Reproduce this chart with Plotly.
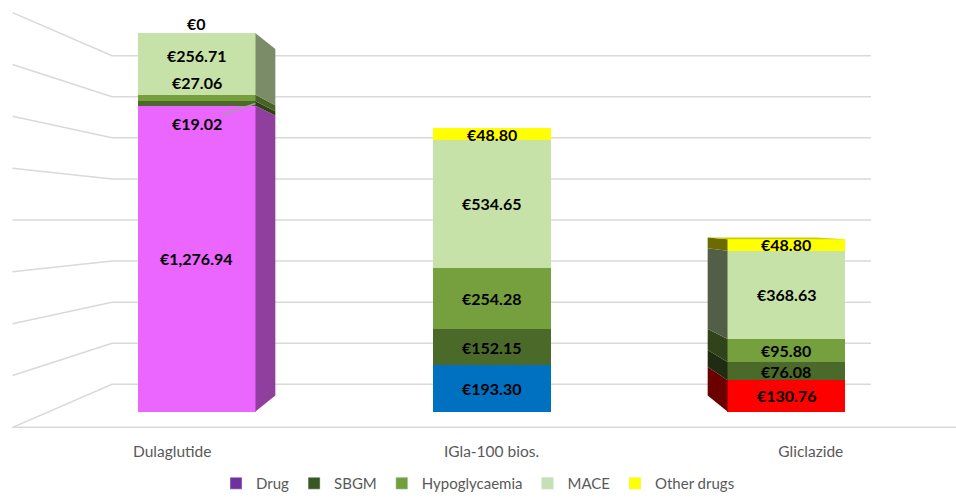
import numpy as np
import plotly.graph_objects as go

# ---------------- data ----------------
categories = ["Dulaglutide", "IGla-100 bios.", "Gliclazide"]
series_names = ["Drug", "SBGM", "Hypoglycaemia", "MACE", "Other drugs"]
drug = [1276.94, 193.30, 130.76]
sbgm = [19.02, 152.15, 76.08]
hypoglycaemia = [27.06, 254.28, 95.80]
mace = [256.71, 534.65, 368.63]
other_drugs = [0.0, 48.80, 48.80]
grid_values = [0, 200, 400, 600, 800, 1000, 1200, 1400, 1600]

series_values = [drug, sbgm, hypoglycaemia, mace, other_drugs]

# ---------------- styles ----------------
bar_colors = {
    "Drug": ["#EB66FF", "#0070C0", "#FF0000"],
    "SBGM": ["#4B6A2A"] * 3,
    "Hypoglycaemia": ["#76A03E"] * 3,
    "MACE": ["#C7E2A8"] * 3,
    "Other drugs": ["#FFFF00"] * 3,
}
legend_colors = {
    "Drug": "#7030A0",
    "SBGM": "#385723",
    "Hypoglycaemia": "#6FA03C",
    "MACE": "#C5E0B4",
    "Other drugs": "#FFFF00",
}
side_shade = [0.62, 1.0, 0.42]   # right side (left bar) / left side (right bar)
FONT = "Lato, 'Open Sans', sans-serif"
GRID = "#D9D9D9"

# perspective of the 3-D chart (front face of bars is the axis plane)
EYE_X = 1.5
EYE_Y = 800
K_FRONT = 1.166
K_BACK = 1.068
K_WALL = 1.0
K_FLOOR = 1.262
BAR_W = 0.4


def proj(X, Y, k):
    r = k / K_FRONT
    return EYE_X + (X - EYE_X) * r, EYE_Y + (Y - EYE_Y) * r


def shade(hexcol, f):
    h = hexcol.lstrip("#")
    r, g, b = (int(h[i:i + 2], 16) for i in (0, 2, 4))
    return "#%02X%02X%02X" % (int(r * f), int(g * f), int(b * f))


x_pos = np.arange(len(categories)) + 0.5

fig = go.Figure()

# ---- wall gridlines (behind everything) ----
shapes = []
for v in grid_values:
    ax_, ay_ = proj(0, v, K_FLOOR)
    bx, by = proj(0, v, K_WALL)
    cx, cy = proj(len(categories), v, K_WALL)
    shapes.append(dict(type="path", xref="x", yref="y", layer="below",
                       path=f"M {ax_},{ay_} L {bx},{by} L {cx},{cy}",
                       line=dict(color=GRID, width=1.5)))
fx0, fy0 = proj(0, 0, K_FLOOR)
fx1, fy1 = proj(len(categories), 0, K_FLOOR)
shapes.append(dict(type="line", xref="x", yref="y", layer="below",
                   x0=fx0, y0=fy0, x1=fx1, y1=fy1,
                   line=dict(color=GRID, width=1.5)))

# ---- front faces: stacked bars ----
for name, vals in zip(series_names, series_values):
    fig.add_trace(go.Bar(
        x=x_pos, y=vals, name=name, width=BAR_W,
        marker=dict(color=bar_colors[name], line=dict(width=0)),
        showlegend=False, hoverinfo="skip"))

# ---- side / top faces ----
bottoms = np.zeros(len(categories))
for name, vals in zip(series_names, series_values):
    for i, v in enumerate(vals):
        y0, y1 = bottoms[i], bottoms[i] + v
        left, right = x_pos[i] - BAR_W / 2, x_pos[i] + BAR_W / 2
        side_x = None
        if right < EYE_X:
            side_x = right
        elif left > EYE_X:
            side_x = left
        if side_x is not None and v > 0:
            pts = [proj(side_x, y0, K_FRONT), proj(side_x, y1, K_FRONT),
                   proj(side_x, y1, K_BACK), proj(side_x, y0, K_BACK)]
            fig.add_trace(go.Scatter(
                x=[p[0] for p in pts] + [pts[0][0]],
                y=[p[1] for p in pts] + [pts[0][1]],
                mode="lines", fill="toself",
                fillcolor=shade(bar_colors[name][i], side_shade[i]),
                line=dict(width=0), showlegend=False, hoverinfo="skip"))
    bottoms = bottoms + np.array(vals)

# top faces of bars below eye level
for i, top in enumerate(bottoms):
    if top < EYE_Y:
        left, right = x_pos[i] - BAR_W / 2, x_pos[i] + BAR_W / 2
        pts = [proj(left, top, K_FRONT), proj(right, top, K_FRONT),
               proj(right, top, K_BACK), proj(left, top, K_BACK)]
        top_name = [n for n, vv in zip(series_names, series_values) if vv[i] > 0][-1]
        fig.add_trace(go.Scatter(
            x=[p[0] for p in pts] + [pts[0][0]],
            y=[p[1] for p in pts] + [pts[0][1]],
            mode="lines", fill="toself",
            fillcolor=shade(bar_colors[top_name][i], 0.8),
            line=dict(width=0), showlegend=False, hoverinfo="skip"))

# ---- legend entries ----
for name in series_names:
    fig.add_trace(go.Bar(x=[None], y=[None], name=name,
                         marker=dict(color=legend_colors[name]),
                         showlegend=True, hoverinfo="skip"))

# ---- data labels ----
label_shift = {(0, "Hypoglycaemia"): 15, (0, "MACE"): 9, (0, "Other drugs"): 10}
annotations = []
bottoms = np.zeros(len(categories))
for name, vals in zip(series_names, series_values):
    for i, v in enumerate(vals):
        mid = bottoms[i] + v / 2
        txt = "€0" if v == 0 else f"€{v:,.2f}"
        if (i, name) == (0, "SBGM"):
            annotations.append(dict(
                x=x_pos[i] + BAR_W / 2, y=mid, xref="x", yref="y", text=f"<b>{txt}</b>",
                showarrow=True, arrowhead=0, arrowwidth=1.5, arrowcolor="#A0A0A0",
                standoff=0, ax=-59, ay=20,
                font=dict(family=FONT, size=16, color="#000000")))
        else:
            annotations.append(dict(
                x=x_pos[i], y=mid, xref="x", yref="y", text=f"<b>{txt}</b>",
                showarrow=False, yshift=label_shift.get((i, name), 0),
                font=dict(family=FONT, size=16, color="#000000")))
    bottoms = bottoms + np.array(vals)

tick_x = [proj(x, 0, K_FLOOR)[0] for x in x_pos]

fig.update_layout(
    width=956, height=500,
    barmode="stack", bargap=0,
    paper_bgcolor="white", plot_bgcolor="white",
    margin=dict(l=0, r=0, t=0, b=72),
    shapes=shapes, annotations=annotations,
    hovermode=False,
    xaxis=dict(range=[-0.1661, 3.0746], tickvals=tick_x, ticktext=categories,
               showgrid=False, zeroline=False, showline=False, ticks="",
               ticklabelstandoff=12,
               tickfont=dict(family=FONT, size=15.5, color="#595959"),
               fixedrange=True),
    yaxis=dict(range=[-68.5, 1718.6], showgrid=False, zeroline=False,
               showticklabels=False, showline=False, fixedrange=True),
    legend=dict(orientation="h", x=0.5, xanchor="center", yref="container",
                y=0.0, yanchor="bottom",
                font=dict(family=FONT, size=15, color="#595959"),
                itemwidth=30, traceorder="normal"),
)

fig.write_html("out.html", config={"displayModeBar": False},
               post_script="document.body.style.margin='0px';")
